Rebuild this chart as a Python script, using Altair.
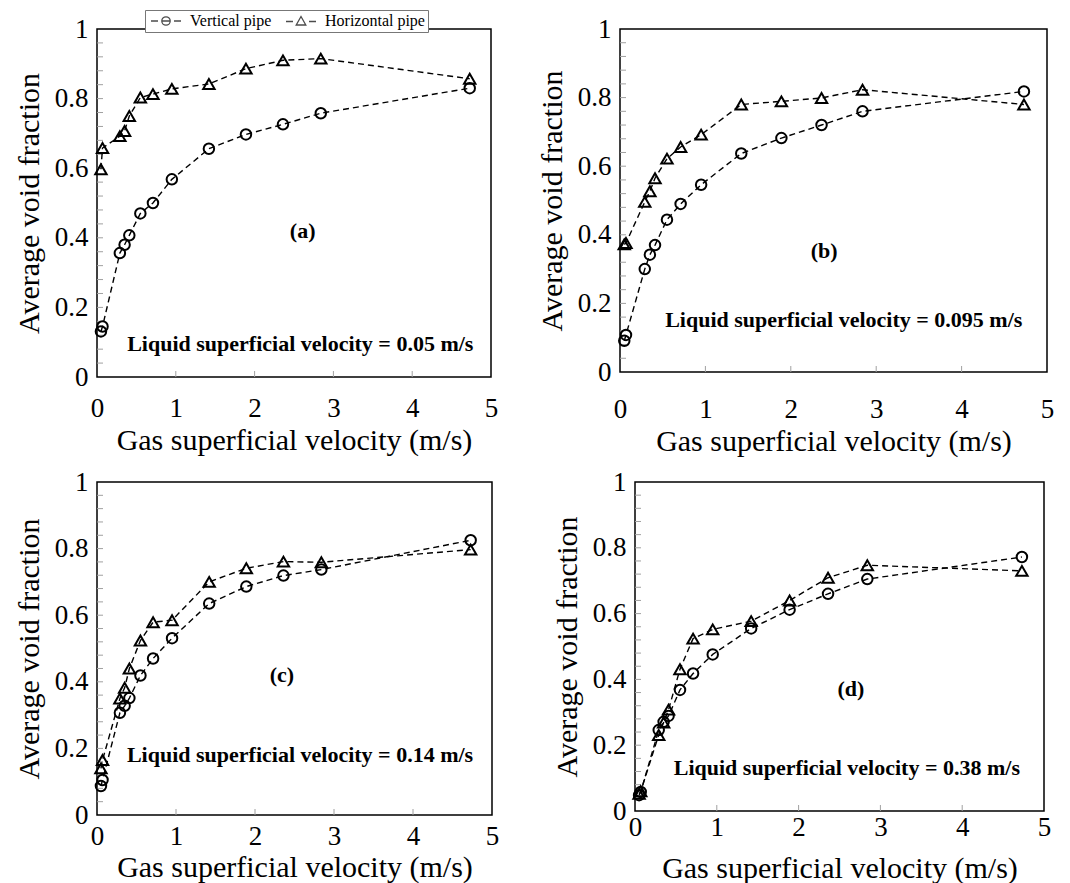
import altair as alt
import pandas as pd

# ---------------- data ----------------
SERIES = ["Vertical pipe", "Horizontal pipe"]
GAS_V = [0.05, 0.07, 0.29, 0.35, 0.41, 0.55, 0.71, 0.95, 1.42, 1.89, 2.36, 2.84, 4.73]

VERT_A = [0.131, 0.145, 0.356, 0.380, 0.407, 0.470, 0.500, 0.568, 0.656, 0.697, 0.726, 0.758, 0.830]
HORZ_A = [0.597, 0.658, 0.692, 0.707, 0.750, 0.803, 0.813, 0.828, 0.842, 0.886, 0.910, 0.915, 0.857]
VERT_B = [0.091, 0.108, 0.300, 0.342, 0.370, 0.444, 0.490, 0.546, 0.637, 0.682, 0.720, 0.760, 0.818]
HORZ_B = [0.372, 0.376, 0.496, 0.527, 0.565, 0.622, 0.656, 0.692, 0.780, 0.789, 0.799, 0.823, 0.780]
VERT_C = [0.087, 0.105, 0.307, 0.328, 0.351, 0.419, 0.470, 0.531, 0.635, 0.686, 0.719, 0.737, 0.825]
HORZ_C = [0.140, 0.165, 0.350, 0.382, 0.440, 0.524, 0.579, 0.585, 0.700, 0.741, 0.761, 0.759, 0.797]
VERT_D = [0.048, 0.058, 0.246, 0.271, 0.289, 0.368, 0.418, 0.476, 0.555, 0.612, 0.660, 0.705, 0.772]
HORZ_D = [0.052, 0.060, 0.231, 0.269, 0.308, 0.431, 0.524, 0.552, 0.577, 0.640, 0.709, 0.747, 0.730]

LETTERS = ["(a)", "(b)", "(c)", "(d)"]
LIQUID_V = ["0.05", "0.095", "0.14", "0.38"]

X_LABELS = [0, 1, 2, 3, 4, 5]
Y_LABELS = [0, 0.2, 0.4, 0.6, 0.8, 1]
X_MINOR = [1, 2, 3, 4]
Y_MINOR = [0.04, 0.08, 0.12, 0.16, 0.2, 0.24, 0.28, 0.32, 0.36, 0.4, 0.44, 0.48,
           0.52, 0.56, 0.6, 0.64, 0.68, 0.72, 0.76, 0.8, 0.84, 0.88, 0.92, 0.96]

FONT = "Liberation Serif"

# legend symbols "-o-" / "-^-" (custom paths; 1 unit = 5 px with symbolSize 100)
CIRC_PATH = ("M-1,0L0.4,0M3.6,0L5,0"
             "M2.84,0A0.84,0.84,0,1,1,1.16,0A0.84,0.84,0,1,1,2.84,0M1.16,0L2.84,0")
TRI_PATH = "M-1,0.1L0.4,0.1M3.6,0.1L5,0.1M2,-0.9L2.96,0.8L1.04,0.8Z"

# per-panel layout (plot size, axis paddings, annotation positions)
LAYOUT = [
    dict(w=394, h=348, lp=18, tp=4, letter=(2.61, 0.42), note=(2.58, 0.096), legend=True),
    dict(w=427, h=343, lp=24, tp=4, letter=(2.39, 0.352), note=(2.62, 0.152), legend=False),
    dict(w=395, h=333, lp=8, tp=3, letter=(2.34, 0.42), note=(2.57, 0.18), legend=False),
    dict(w=409, h=329, lp=3, tp=13, letter=(2.64, 0.372), note=(2.59, 0.132), legend=False),
]


def panel(vert, horz, letter, liquid, cfg):
    n = len(GAS_V)
    df = pd.DataFrame({
        "x": GAS_V + GAS_V,
        "y": vert + horz,
        "pipe": [SERIES[0]] * n + [SERIES[1]] * n,
        "order": list(range(n)) * 2,
    })
    xs = alt.Scale(domain=[0, 5], nice=False, zero=False)
    ys = alt.Scale(domain=[0, 1], nice=False, zero=False)
    common = dict(ticks=False, domain=False, grid=False, labelFlush=False, labelOverlap=False,
                  labelFont=FONT, titleFont=FONT, labelFontSize=27, titleFontSize=30,
                  labelColor="black", titleColor="black", titleFontWeight="normal")
    x_axis = alt.Axis(values=X_LABELS, format="d", title="Gas superficial velocity (m/s)",
                      labelPadding=cfg["lp"], titlePadding=cfg["tp"], **common)
    y_axis = alt.Axis(values=Y_LABELS, format=".1~f", title="Average void fraction",
                      labelPadding=9, titlePadding=10, **common)

    base = alt.Chart(df).encode(
        x=alt.X("x:Q", scale=xs, axis=x_axis),
        y=alt.Y("y:Q", scale=ys, axis=y_axis),
    )
    lines = base.mark_line(strokeDash=[6, 4], color="black", strokeWidth=1.4).encode(
        detail="pipe:N", order="order:Q")
    circles = base.transform_filter(alt.datum.pipe == SERIES[0]).mark_point(
        shape="circle", filled=False, color="black", strokeWidth=2, size=110, opacity=1)
    tris = base.transform_filter(alt.datum.pipe == SERIES[1]).mark_point(
        shape="triangle-up", filled=False, color="black", strokeWidth=2, size=130, opacity=1)

    ytick = alt.Chart(pd.DataFrame({"y": Y_MINOR})).mark_rule(
        color="#a0a0a0", strokeWidth=1).encode(
        y=alt.Y("y:Q", scale=ys), x=alt.value(0), x2=alt.value(6))
    xtick = alt.Chart(pd.DataFrame({"x": X_MINOR})).mark_rule(
        color="#a0a0a0", strokeWidth=1).encode(
        x=alt.X("x:Q", scale=xs), y=alt.value(cfg["h"]), y2=alt.value(cfg["h"] - 6))

    txt = pd.DataFrame({
        "x": [cfg["letter"][0], cfg["note"][0]],
        "y": [cfg["letter"][1], cfg["note"][1]],
        "t": [letter, f"Liquid superficial velocity = {liquid} m/s"],
    })
    texts = alt.Chart(txt).mark_text(font=FONT, fontSize=22, fontWeight="bold",
                                     color="black", align="center", baseline="middle").encode(
        x=alt.X("x:Q", scale=xs), y=alt.Y("y:Q", scale=ys), text="t:N")

    layers = [ytick, xtick, lines, circles, tris, texts]
    if cfg["legend"]:
        leg = alt.Chart(df).transform_filter("false").mark_point(
            filled=False, color="black", strokeWidth=1.3).encode(
            shape=alt.Shape("pipe:N", scale=alt.Scale(domain=SERIES, range=[CIRC_PATH, TRI_PATH]),
                            legend=alt.Legend(
                                title=None, orient="none", legendX=48, legendY=-19,
                                direction="horizontal", columns=2, columnPadding=11,
                                labelFont=FONT, labelFontSize=16, labelColor="black",
                                labelOffset=26, symbolSize=100, symbolStrokeWidth=1.3,
                                symbolStrokeColor="black", symbolFillColor="transparent",
                                strokeColor="#777777", fillColor="white", padding=3)))
        layers.append(leg)
    return alt.layer(*layers).properties(width=cfg["w"], height=cfg["h"])


panels = []
for i, (v, h) in enumerate([(VERT_A, HORZ_A), (VERT_B, HORZ_B), (VERT_C, HORZ_C), (VERT_D, HORZ_D)]):
    panels.append(panel(v, h, LETTERS[i], LIQUID_V[i], LAYOUT[i]))

top = alt.hconcat(panels[0], panels[1], spacing=37).resolve_scale(shape="independent")
bottom = alt.hconcat(panels[2], panels[3], spacing=51)

chart = alt.vconcat(top, bottom, spacing=10).resolve_scale(shape="independent").properties(
    padding={"left": 5, "top": 0, "right": 0, "bottom": 0}
).configure(font=FONT).configure_view(
    stroke="black", strokeWidth=1.5
)

chart.save("out.html", embed_options={"renderer": "svg", "actions": False})
